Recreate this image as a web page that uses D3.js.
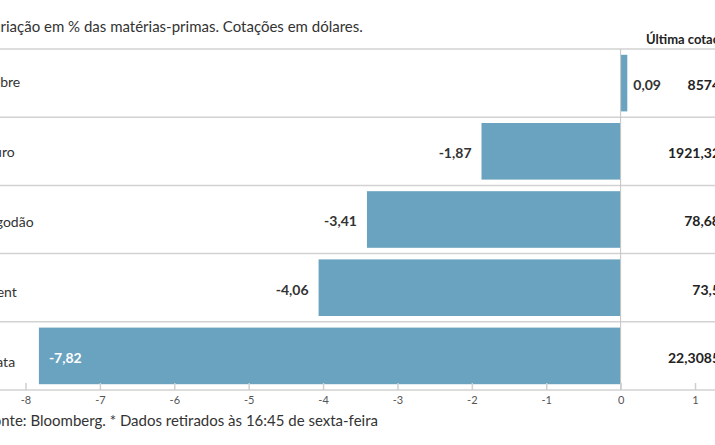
<!DOCTYPE html>
<html><head><meta charset="utf-8">
<script src="https://cdn.jsdelivr.net/npm/d3@7"></script>
<style>
body{margin:0;background:#fff;}
svg{display:block;font-family:Lato,"Open Sans",sans-serif;}
</style>
</head><body><svg id="c" width="715" height="445"></svg>
<script>
const categories = ["Cobre", "Ouro", "Algodão", "Brent", "Prata"];
const changes = [0.09, -1.87, -3.41, -4.06, -7.82];
const lastQuotes = ["8574", "1921,32", "78,68", "73,5", "22,3085"];
const xTicks = [-8, -7, -6, -5, -4, -3, -2, -1, 0, 1];
const titleText = "Variação em % das matérias-primas. Cotações em dólares.";
const quoteHeader = "Última cotação*";
const sourceText = "Fonte: Bloomberg.  * Dados retirados às 16:45 de sexta-feira";

const W = 715, H = 445;
const svg = d3.select("#c");
svg.append("rect").attr("width", W).attr("height", H).attr("fill", "#fff");

const x = d3.scaleLinear().domain([-8, 1]).range([25.5, 695]);
const rows = d3.scaleBand().domain(categories).range([49, 390]);
const bars = d3.scaleBand().domain(categories).range([49, 390]).paddingInner(0.17).paddingOuter(0.085);
const labelsY = d3.scaleBand().domain(categories).range([47, 397]);
const fmt = v => v.toFixed(2).replace(".", ",");

// title
svg.append("text").attr("x", -16).attr("y", 32).attr("font-size", 15).attr("fill", "#333").text(titleText);
svg.append("text").attr("x", 646).attr("y", 44).attr("font-size", 13).attr("font-weight", "bold").attr("fill", "#222").text(quoteHeader);

// bars
svg.append("g").selectAll("rect").data(categories).join("rect")
  .attr("x", (d, i) => x(Math.min(0, changes[i])))
  .attr("width", (d, i) => Math.abs(x(changes[i]) - x(0)))
  .attr("y", d => bars(d))
  .attr("height", bars.bandwidth())
  .attr("fill", "#6aa3bf");

// row separators
const sepY = categories.map(d => rows(d)).concat([rows.range()[1]]);
svg.append("g").selectAll("line").data(sepY).join("line")
  .attr("x1", 0).attr("x2", W).attr("y1", d => d).attr("y2", d => d)
  .attr("stroke", "#d2d2d2").attr("stroke-width", 1.5);

// zero line
svg.append("line").attr("x1", x(0)).attr("x2", x(0)).attr("y1", rows.range()[0]).attr("y2", rows.range()[1])
  .attr("stroke", "#c4c4c4").attr("stroke-width", 1);

// axis
const axis = svg.append("g").attr("transform", `translate(0,${rows.range()[1]})`)
  .call(d3.axisBottom(x).tickValues(xTicks).tickSize(-7).tickPadding(6).tickFormat(d => String(d)));
axis.select(".domain").remove();
axis.selectAll(".tick line").attr("stroke", "#cfcfcf").attr("stroke-width", 1.5);
axis.selectAll(".tick text").attr("fill", "#555").attr("font-size", 11).attr("font-family", "Lato, sans-serif");

// category labels
svg.append("g").selectAll("text").data(categories).join("text")
  .attr("x", -17).attr("y", d => labelsY(d) + labelsY.bandwidth() / 2).attr("dy", "0.35em")
  .attr("font-size", 14).attr("fill", "#333").text(d => d);

// value labels
const vl = svg.append("g").attr("font-size", 14).attr("font-weight", "bold");
categories.forEach((c, i) => {
  const v = changes[i];
  const t = vl.append("text").attr("y", bars(c) + bars.bandwidth() / 2 + 2).attr("dy", "0.35em").text(fmt(v));
  const w = t.node().getComputedTextLength();
  if (v >= 0) {
    t.attr("x", x(v) + 6).attr("text-anchor", "start").attr("fill", "#333");
  } else if (x(v) - 10 - w < 0) {
    t.attr("x", x(v) + 10).attr("text-anchor", "start").attr("fill", "#fff");
  } else {
    t.attr("x", x(v) - 10).attr("text-anchor", "end").attr("fill", "#333");
  }
});

// last quotes
svg.append("g").selectAll("text").data(categories).join("text")
  .attr("x", 720).attr("text-anchor", "end")
  .attr("y", d => rows(d) + rows.bandwidth() / 2 + 2).attr("dy", "0.35em")
  .attr("font-size", 14).attr("font-weight", "bold").attr("fill", "#222")
  .text((d, i) => lastQuotes[i]);

// source
svg.append("text").attr("x", -15).attr("y", 426).attr("font-size", 15).attr("fill", "#333").text(sourceText);
</script>
</body></html>
